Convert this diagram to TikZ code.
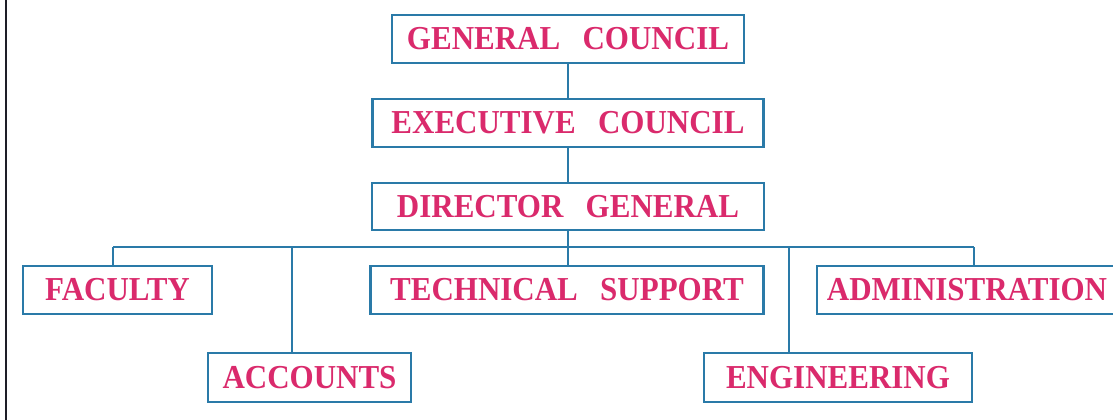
\documentclass[tikz,border=0pt]{standalone}
\usepackage{fontspec}
\setmainfont{Liberation Serif}
\definecolor{pinktext}{RGB}{218,42,108}
\definecolor{boxline}{RGB}{42,122,168}
\definecolor{frameline}{RGB}{30,30,40}
\newcommand{\wsp}{\hspace{0.72em}}
\newcommand{\lbl}[1]{\scalebox{1}[1.08]{#1}}
\tikzset{
  orgbox/.style={draw=boxline, line width=2.7pt, rectangle, inner sep=0pt,
    minimum height=48pt, text=pinktext, font=\fontsize{31}{31}\selectfont\bfseries},
  link/.style={draw=boxline, line width=2.5pt},
  frame/.style={draw=frameline, line width=2.8pt}
}
\begin{document}
\begin{tikzpicture}[x=1pt,y=-1pt]
\useasboundingbox (0,0) rectangle (1113,420);
\fill[white] (0,0) rectangle (1113,420);
\clip (0,0) rectangle (1113,420);
% left frame line
\coordinate (lt) at (6,0);
\coordinate (lb) at (6,420);
\draw[frame] (lt) -- (lb);
% boxes
\node[orgbox, minimum width=352pt] (gc) at (568,39) {\lbl{GENERAL\wsp COUNCIL}};
\node[orgbox, minimum width=391pt] (ec) at (568,123) {\lbl{EXECUTIVE\wsp COUNCIL}};
\node[orgbox, minimum width=392pt, minimum height=47pt] (dg) at (568,206.5) {\lbl{DIRECTOR\wsp GENERAL}};
\node[orgbox, minimum width=189pt] (fac) at (117.5,290) {\lbl{FACULTY}};
\node[orgbox, minimum width=393pt] (tech) at (567,290) {\lbl{TECHNICAL\wsp SUPPORT}};
\node[orgbox, minimum width=300pt] (adm) at (967,290) {\lbl{ADMINISTRATION}};
\node[orgbox, minimum width=203pt, minimum height=49pt] (acc) at (309.5,377.5) {\lbl{ACCOUNTS}};
\node[orgbox, minimum width=268pt, minimum height=49pt] (eng) at (838,377.5) {\lbl{ENGINEERING}};
% bus coordinates
\coordinate (busL) at (113,247);
\coordinate (busR) at (974,247);
\coordinate (accbus) at (292,247);
\coordinate (engbus) at (789,247);
% connectors
\draw[link] (gc.south) -- (ec.north);
\draw[link] (ec.south) -- (dg.north);
\draw[link] (dg.south) -- (dg.south |- tech.north);
\draw[link] (busL) -- (busR);
\draw[link] (busL) -- (busL |- fac.north);
\draw[link] (busR) -- (busR |- adm.north);
\draw[link] (accbus) -- (accbus |- acc.north);
\draw[link] (engbus) -- (engbus |- eng.north);
\end{tikzpicture}
\end{document}
